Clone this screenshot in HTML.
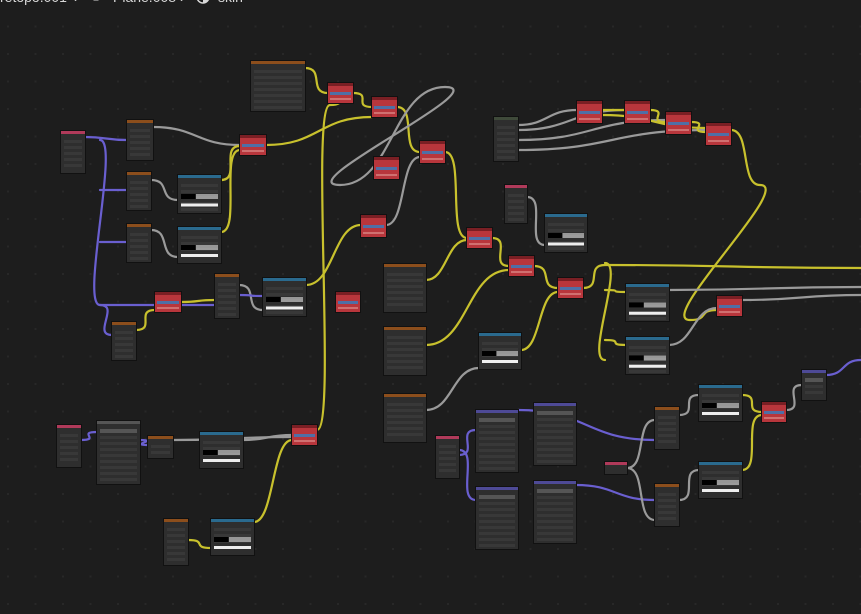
<!DOCTYPE html>
<html><head><meta charset="utf-8"><style>
html,body{margin:0;padding:0;background:#1d1d1d;overflow:hidden}
svg{display:block}
</style></head><body>
<svg id="s" width="861" height="614" xmlns="http://www.w3.org/2000/svg">
<defs><pattern id="g" width="27.5" height="27.5" patternUnits="userSpaceOnUse" x="-5" y="-14"><rect x="12" y="12" width="2" height="2" fill="#282828"/></pattern></defs>
<rect width="861" height="614" fill="#1d1d1d"/>
<rect width="861" height="614" fill="url(#g)"/>
<g fill="#d8d8d8" font-family="Liberation Sans, sans-serif" font-size="14">
<text x="0" y="2">retopo.001</text>
<text x="74" y="2">›</text>
<rect x="94" y="-4" width="4" height="4" fill="none" stroke="#d8d8d8" stroke-width="1"/>
<text x="113" y="2">Plane.008</text>
<text x="180" y="2">›</text>
<circle cx="203" cy="-3" r="6" fill="#1d1d1d" stroke="#d8d8d8" stroke-width="1.5"/>
<path d="M203 -9 A6 6 0 0 1 203 3 Z" fill="#d8d8d8"/>
<text x="218" y="2">skin</text>
</g>
<g id="w" fill="none" stroke-width="2.2" stroke-linecap="round"></g>
<g id="n"></g>
</svg>
<script>
var W=[
[85,137,127,140,'p'],[100,140,100,305,'p'],[100,190,127,190,'p'],[100,242,127,242,'p'],[100,305,155,305,'p'],[100,305,112,335,'p'],
[153,127,240,145,'g'],[151,230,178,257,'g'],[151,180,178,200,'g'],
[221,180,240,146,'y'],[221,232,240,150,'y'],[266,145,372,117,'y'],[305,68,328,93,'y'],[353,93,372,107,'y'],[397,107,420,152,'y'],
[445,152,467,238,'y'],[492,238,509,266,'y'],[534,266,558,288,'y'],[583,288,605,265,'y'],[605,265,861,268,'y'],[605,263,605,360,'y'],
[605,290,626,292,'y'],[605,340,626,345,'y'],[181,302,215,300,'y'],[136,330,155,310,'y'],[239,285,263,310,'g'],[181,305,215,305,'p'],
[306,285,361,225,'y'],[386,225,420,157,'g'],[317,430,330,105,'y'],[330,105,353,93,'y'],[254,522,292,440,'y'],[243,440,292,435,'g'],[173,440,292,437,'g'],
[140,440,148,445,'p'],[81,440,97,432,'p'],[188,540,211,548,'y'],[239,295,263,296,'p'],
[426,280,467,240,'y'],[426,345,509,270,'y'],[426,410,479,368,'g'],[521,350,558,292,'y'],
[527,197,545,245,'g'],[518,125,577,110,'g'],[518,130,625,110,'g'],[518,140,666,120,'g'],[518,150,706,130,'g'],[602,110,625,110,'y'],[650,110,666,122,'y'],[691,122,706,132,'y'],[602,115,706,128,'y'],
[731,130,760,185,'y'],[760,185,690,320,'y'],[690,320,717,310,'y'],[669,290,861,287,'g'],[669,345,717,308,'g'],[742,300,861,295,'g'],
[445,87,340,185,'g'],[340,185,445,87,'g'],
[459,450,476,500,'p'],[459,455,476,430,'p'],[518,410,655,440,'p'],[576,485,655,500,'p'],[627,468,655,420,'g'],[627,468,655,520,'g'],
[679,415,699,395,'g'],[679,500,699,470,'g'],[742,395,762,412,'y'],[742,470,762,415,'y'],[786,410,802,385,'g'],[826,375,861,360,'p']];
var C={y:'#c8c12d',g:'#9a9a9a',p:'#6a5fd0'};
var s='';
W.forEach(function(a){var d=Math.max(20,Math.abs(a[2]-a[0])*0.5);
s+='<path d="M'+a[0]+' '+a[1]+' C'+(a[0]+d)+' '+a[1]+','+(a[2]-d)+' '+a[3]+','+a[2]+' '+a[3]+'" stroke="'+C[a[4]]+'"/>';});
document.getElementById('w').innerHTML=s;
var H={o:'#8c4e1c',b:'#2a6a8e',r:'#9c2a30',k:'#b03a5a',u:'#4e4a96',d:'#3f4a3a',x:'#555'};
var N=[[61,131,24,42,'k'],[127,120,26,40,'o'],[127,172,24,38,'o'],[127,224,24,38,'o'],[112,322,24,38,'o'],[178,175,43,38,'b'],[178,227,43,36,'b'],
[240,135,26,20,'r'],[155,292,26,20,'r'],[215,274,24,44,'o'],[263,278,43,38,'b'],[251,61,54,50,'o'],[328,83,25,20,'r'],[372,97,25,20,'r'],
[374,157,25,22,'r'],[420,141,25,22,'r'],[361,215,25,22,'r'],[336,292,24,20,'r'],[384,264,42,48,'o'],[384,327,42,48,'o'],[384,394,42,48,'o'],
[494,117,24,44,'d'],[505,185,22,38,'k'],[545,214,42,38,'b'],[467,228,25,20,'r'],[509,256,25,20,'r'],[558,278,25,20,'r'],[479,333,42,36,'b'],
[577,101,25,22,'r'],[625,101,25,22,'r'],[666,112,25,22,'r'],[706,123,25,22,'r'],[626,284,43,37,'b'],[626,337,43,37,'b'],[717,296,25,20,'r'],
[57,425,24,42,'k'],[97,421,43,63,'x'],[148,436,25,22,'o'],[200,432,43,36,'b'],[292,425,25,20,'r'],[164,519,24,46,'o'],[211,519,43,36,'b'],
[436,436,23,42,'k'],[476,410,42,62,'u'],[476,487,42,62,'u'],[534,403,42,62,'u'],[534,481,42,62,'u'],[605,462,22,12,'k'],[655,407,24,42,'o'],
[655,484,24,42,'o'],[699,385,43,36,'b'],[699,462,43,36,'b'],[762,402,24,20,'r'],[802,370,24,30,'u']];
s='';
N.forEach(function(n){var x=n[0],y=n[1],w=n[2],h=n[3],c=n[4];
s+='<rect x="'+(x-1)+'" y="'+(y-1)+'" width="'+(w+2)+'" height="'+(h+2)+'" fill="#111"/>';
if(c=='r'){s+='<rect x="'+x+'" y="'+y+'" width="'+w+'" height="'+h+'" fill="#b8363c"/><rect x="'+x+'" y="'+y+'" width="'+w+'" height="3" fill="#7a1f24"/><rect x="'+(x+2)+'" y="'+(y+h/2-1)+'" width="'+(w-4)+'" height="3" fill="#4f6fa6"/><rect x="'+(x+2)+'" y="'+(y+h-5)+'" width="'+(w-4)+'" height="2" fill="#d07070"/>';return;}
s+='<rect x="'+x+'" y="'+y+'" width="'+w+'" height="'+h+'" fill="#2e2e2e"/><rect x="'+x+'" y="'+y+'" width="'+w+'" height="3" fill="'+H[c]+'"/>';
for(var yy=y+9;yy<y+h-3;yy+=6){s+='<rect x="'+(x+3)+'" y="'+yy+'" width="'+(w-6)+'" height="3" fill="#383838"/>';}
if(c=='b'){s+='<rect x="'+(x+3)+'" y="'+(y+h*0.5)+'" width="'+(w-6)+'" height="5" fill="#ddd" opacity="0.6"/><rect x="'+(x+3)+'" y="'+(y+h*0.5)+'" width="'+((w-6)*0.4)+'" height="5" fill="#000"/><rect x="'+(x+3)+'" y="'+(y+h*0.75)+'" width="'+(w-6)+'" height="3" fill="#eee"/>';}
if(c=='u'||c=='x'){s+='<rect x="'+(x+3)+'" y="'+(y+8)+'" width="'+(w-6)+'" height="4" fill="#555"/>';}
});
document.getElementById('n').innerHTML=s;
</script>
</body></html>
